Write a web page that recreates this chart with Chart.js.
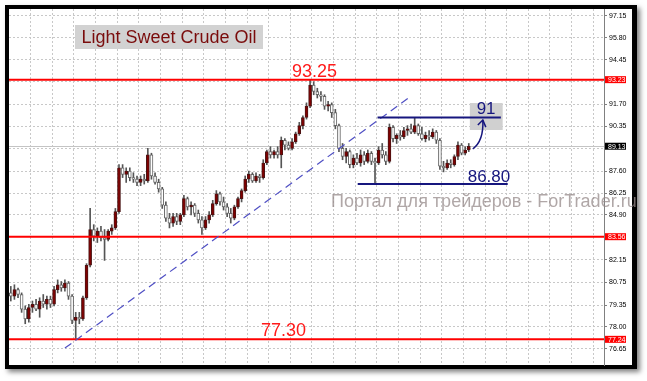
<!DOCTYPE html>
<html>
<head>
<meta charset="utf-8">
<script src="https://cdn.jsdelivr.net/npm/chart.js@4"></script>
<style>
  html, body { margin: 0; padding: 0; background: #fff; }
  canvas { display: block; }
</style>
</head>
<body>
<canvas id="chart" width="647" height="381"></canvas>
<script>
// Light Sweet Crude Oil, candles
const opens = [80.1, 79.9, 80.3, 80.0, 79.1, 78.5, 79.2, 79.4, 79.1, 79.6,
  79.4, 79.7, 79.4, 80.3, 80.6, 80.4, 80.7, 79.9, 78.4, 78.6,
  78.5, 79.8, 81.8, 84.0, 83.6, 83.9, 83.5, 83.4, 83.9, 84.1,
  85.1, 87.8, 87.4, 87.6, 87.2, 87.1, 86.9, 87.1, 87.0, 88.6,
  87.3, 86.9, 86.5, 85.5, 84.7, 84.4, 84.8, 84.5, 84.9, 85.9,
  85.4, 85.5, 85.0, 84.6, 84.1, 84.6, 84.9, 85.6, 86.2, 85.7,
  85.4, 85.0, 84.7, 85.4, 85.9, 86.4, 87.1, 87.4, 87.0, 87.3,
  87.2, 88.1, 88.8, 88.6, 88.8, 88.6, 89.5, 89.2, 89.0, 89.4,
  89.9, 90.4, 90.9, 91.6, 92.9, 92.5, 92.3, 92.2, 91.6, 91.7,
  91.2, 90.4, 89.0, 88.5, 88.8, 88.0, 88.4, 88.1, 88.6, 88.2,
  88.7, 88.2, 88.1, 88.9, 88.6, 88.2, 90.3, 89.6, 89.8, 89.7,
  90.1, 90.2, 90.0, 90.4, 89.9, 89.6, 89.8, 89.7, 90.0, 89.5,
  87.9, 87.8, 88.1, 88.0, 88.5, 89.2, 88.7, 88.9];
const highs = [80.5, 80.6, 80.4, 80.1, 79.3, 79.4, 79.6, 79.7, 79.8, 80.0,
  79.9, 79.9, 80.5, 80.9, 80.8, 80.9, 80.8, 80.0, 78.9, 78.9,
  79.9, 81.9, 85.3, 84.3, 84.1, 84.2, 84.0, 84.0, 84.3, 85.3,
  88.0, 88.0, 87.8, 87.8, 87.5, 87.3, 87.3, 87.4, 89.0, 88.7,
  87.5, 87.1, 86.6, 85.7, 85.0, 85.0, 85.0, 85.0, 86.1, 86.0,
  85.7, 85.6, 85.2, 84.8, 84.8, 85.1, 85.8, 86.4, 86.3, 86.0,
  85.6, 85.3, 85.5, 86.0, 86.5, 87.3, 87.6, 87.5, 87.5, 87.4,
  88.3, 88.9, 89.1, 88.9, 89.1, 89.7, 89.6, 89.4, 89.6, 90.0,
  90.6, 91.0, 91.8, 93.25, 93.1, 92.7, 92.5, 92.3, 91.9, 91.8,
  91.4, 90.5, 89.3, 89.0, 88.9, 88.6, 88.7, 88.9, 88.8, 88.9,
  88.8, 88.4, 89.1, 89.3, 88.8, 90.5, 90.4, 89.9, 90.1, 90.3,
  90.4, 90.5, 90.9, 90.5, 90.3, 90.0, 90.1, 90.2, 90.1, 89.6,
  88.2, 88.3, 88.3, 88.6, 89.4, 89.3, 89.1, 89.3];
const lows = [79.6, 79.7, 79.8, 78.9, 78.2, 78.3, 78.9, 79.0, 78.6, 79.2,
  79.1, 79.2, 79.3, 80.1, 80.2, 80.2, 79.7, 78.2, 77.3, 78.2,
  78.4, 79.7, 81.7, 83.3, 83.2, 83.3, 82.1, 83.3, 83.7, 84.0,
  85.0, 87.2, 86.9, 87.0, 86.9, 86.7, 86.7, 86.8, 86.9, 87.1,
  86.8, 86.3, 85.3, 84.5, 84.1, 84.2, 84.3, 84.3, 84.8, 85.2,
  84.9, 84.8, 84.4, 83.7, 84.0, 84.4, 84.8, 85.5, 85.5, 85.2,
  84.8, 84.4, 84.6, 85.3, 85.7, 86.3, 86.9, 86.9, 86.9, 86.9,
  87.1, 88.0, 88.4, 88.4, 88.4, 87.8, 88.9, 88.9, 88.9, 89.3,
  89.8, 90.2, 90.8, 91.5, 92.3, 92.1, 91.9, 91.4, 91.3, 90.9,
  90.2, 88.8, 88.3, 88.1, 87.8, 87.8, 88.0, 87.9, 88.0, 88.1,
  88.0, 86.85, 88.0, 88.4, 88.0, 88.1, 89.4, 89.3, 89.5, 89.6,
  89.8, 89.9, 89.9, 89.8, 89.5, 89.4, 89.5, 89.6, 89.3, 87.7,
  87.55, 87.7, 87.8, 87.9, 88.3, 88.6, 88.6, 88.8];
const closes = [79.9, 80.3, 80.0, 79.1, 78.5, 79.2, 79.4, 79.1, 79.6, 79.4,
  79.7, 79.4, 80.3, 80.6, 80.4, 80.7, 79.9, 78.4, 78.6, 78.5,
  79.8, 81.8, 84.0, 83.6, 83.9, 83.5, 83.4, 83.9, 84.1, 85.1,
  87.8, 87.4, 87.6, 87.2, 87.1, 86.9, 87.1, 87.0, 88.6, 87.3,
  86.9, 86.5, 85.5, 84.7, 84.4, 84.8, 84.5, 84.9, 85.9, 85.4,
  85.5, 85.0, 84.6, 84.1, 84.6, 84.9, 85.6, 86.2, 85.7, 85.4,
  85.0, 84.7, 85.4, 85.9, 86.4, 87.1, 87.4, 87.0, 87.3, 87.2,
  88.1, 88.8, 88.6, 88.8, 88.6, 89.5, 89.2, 89.0, 89.4, 89.9,
  90.4, 90.9, 91.6, 92.9, 92.5, 92.3, 92.2, 91.6, 91.7, 91.2,
  90.4, 89.0, 88.5, 88.8, 88.0, 88.4, 88.1, 88.6, 88.2, 88.7,
  88.2, 88.1, 88.9, 88.6, 88.2, 90.3, 89.6, 89.8, 89.7, 90.1,
  90.2, 90.0, 90.4, 89.9, 89.6, 89.8, 89.7, 90.0, 89.5, 87.9,
  87.8, 88.1, 88.0, 88.5, 89.2, 88.7, 88.9, 89.13];

const slotCount = 165; // bars that fit in the window, the right part is empty
const priceTicks = [97.15, 95.80, 94.45, 93.10, 91.70, 90.35, 89.00, 87.60, 86.25,
  84.90, 83.55, 82.15, 80.75, 79.35, 78.00, 76.65];
const hiddenTicks = [93.10, 89.00, 83.55]; // covered by the price tags
const redLevels = [93.23, 83.56, 77.24];
const bidPrice = 89.13;

// drawn objects: [fromIndex, fromPrice, toIndex, toPrice]
const trendLine = [15.0, 76.70, 110.3, 92.10];
const resistLine = [101.7, 90.90, 135.9, 90.90];
const supportLine = [96.2, 86.80, 137.8, 86.80];
const arrowPath = [128.1, 88.96, 130.9, 90.74];
const labelBox91 = [127.3, 91.79, 136.4, 90.13];

const labels = Array.from({length: slotCount}, (_, i) => String(i));

const bodyColors = opens.map((o, i) => closes[i] >= o ? '#800000' : '#ffffff');
const bodyBorders = opens.map((o, i) => closes[i] >= o ? '#4a1414' : '#666666');

const overlay = {
  id: 'overlay',
  beforeDraw(chart) {
    const c = chart.ctx, a = chart.chartArea;
    c.save();
    c.fillStyle = '#fff';
    c.fillRect(0, 0, chart.width, chart.height);
    c.shadowColor = 'rgba(0,0,0,0.5)';
    c.shadowBlur = 5;
    c.shadowOffsetX = 3;
    c.shadowOffsetY = 3;
    c.fillStyle = '#000';
    c.fillRect(a.left - 4, a.top - 4, chart.width - a.left - 6, a.bottom - a.top + 8);
    c.shadowColor = 'transparent';
    c.fillStyle = '#fff';
    c.fillRect(a.left, a.top, chart.width - a.left - 15, a.bottom - a.top);
    c.restore();
  },
  beforeDatasetsDraw(chart) {
    const c = chart.ctx, a = chart.chartArea, ys = chart.scales.y;
    const y = Math.round(ys.getPixelForValue(bidPrice)) + 0.5;
    c.save();
    c.strokeStyle = '#c4c4c4';
    c.lineWidth = 1;
    c.beginPath();
    c.moveTo(a.left, y);
    c.lineTo(a.right, y);
    c.stroke();
    c.restore();
  },
  afterDatasetsDraw(chart) {
    const c = chart.ctx, a = chart.chartArea, xs = chart.scales.x, ys = chart.scales.y;
    const px = v => xs.getPixelForValue(v);
    const py = v => ys.getPixelForValue(v);
    c.save();

    // horizontal red levels
    c.strokeStyle = '#ff0000';
    c.lineWidth = 2;
    redLevels.forEach(v => {
      c.beginPath();
      c.moveTo(a.left, py(v));
      c.lineTo(a.right, py(v));
      c.stroke();
    });

    // dashed trend line
    c.strokeStyle = '#4f4fc4';
    c.lineWidth = 1.2;
    c.setLineDash([8, 5]);
    c.beginPath();
    c.moveTo(px(trendLine[0]), py(trendLine[1]));
    c.lineTo(px(trendLine[2]), py(trendLine[3]));
    c.stroke();
    c.setLineDash([]);

    // "91" box
    c.fillStyle = '#d0d0d0';
    c.fillRect(px(labelBox91[0]), py(labelBox91[1]), px(labelBox91[2]) - px(labelBox91[0]), py(labelBox91[3]) - py(labelBox91[1]));

    // blue channel lines
    c.strokeStyle = '#16167e';
    c.lineWidth = 2;
    [resistLine, supportLine].forEach(l => {
      c.beginPath();
      c.moveTo(px(l[0]), py(l[1]));
      c.lineTo(px(l[2]), py(l[3]));
      c.stroke();
    });

    // arrow
    const x0 = px(arrowPath[0]), y0 = py(arrowPath[1]);
    const x1 = px(arrowPath[2]), y1 = py(arrowPath[3]);
    c.lineWidth = 1.5;
    c.beginPath();
    c.moveTo(x0, y0);
    c.quadraticCurveTo(x1 + 1, y0 - 8, x1, y1);
    c.stroke();
    c.beginPath();
    c.moveTo(x1 - 5, y1 + 5);
    c.lineTo(x1, y1);
    c.lineTo(x1 + 3, y1 + 7);
    c.stroke();

    // texts
    c.textAlign = 'center';
    c.textBaseline = 'alphabetic';
    c.font = '18px "Liberation Sans", Arial, sans-serif';
    c.fillStyle = '#ff1a1a';
    c.fillText('93.25', px(84.2), py(93.23) - 3);
    c.fillText('77.30', px(75.6), py(77.24) - 3);
    c.fillStyle = '#16167e';
    c.font = '17px "Liberation Sans", Arial, sans-serif';
    c.fillText('91', px(131.8), py(90.90) - 3);
    c.fillText('86.80', px(132.6), py(86.80) - 2);

    // title box
    c.fillStyle = '#d2d2d2';
    c.fillRect(a.left + 66, a.top + 16, 188, 24);
    c.fillStyle = '#7a0c0c';
    c.font = '18px "Liberation Sans", Arial, sans-serif';
    c.textBaseline = 'middle';
    c.fillText('Light Sweet Crude Oil', a.left + 160, a.top + 29);

    // highlighted price labels on the axis
    c.font = '7px "Liberation Sans", Arial, sans-serif';
    c.textAlign = 'left';
    const tag = (v, bg) => {
      const y = py(v);
      c.fillStyle = bg;
      c.fillRect(a.right + 1, y - 3.5, 21, 7);
      c.fillStyle = '#fff';
      c.fillText(v.toFixed(2), a.right + 4, y + 0.5);
    };
    redLevels.forEach(v => tag(v, '#ff0000'));
    tag(bidPrice, '#000000');
    c.restore();
  },
  afterDraw(chart) {
    const c = chart.ctx;
    c.save();
    c.font = '18px "Liberation Sans", Arial, sans-serif';
    c.fillStyle = 'rgba(150,138,138,0.75)';
    c.textBaseline = 'middle';
    c.fillText('Портал для трейдеров - ForTrader.ru', 331, 202);
    c.restore();
  }
};

new Chart(document.getElementById('chart'), {
  type: 'bar',
  data: {
    labels: labels,
    datasets: [{
      label: 'body',
      data: opens.map((o, i) => [o, closes[i]]),
      backgroundColor: bodyColors,
      borderColor: bodyBorders,
      borderWidth: 1,
      borderSkipped: false,
      barThickness: 3,
      grouped: false,
      order: 0
    }, {
      label: 'wick',
      data: lows.map((l, i) => [l, highs[i]]),
      backgroundColor: '#555555',
      borderWidth: 0,
      barThickness: 1,
      grouped: false,
      order: 1
    }]
  },
  options: {
    responsive: false,
    animation: false,
    devicePixelRatio: 1,
    layout: { padding: { left: 9, top: 9, right: 0, bottom: 16 } },
    plugins: { legend: { display: false }, tooltip: { enabled: false } },
    scales: {
      x: {
        offset: true,
        ticks: { display: false, autoSkip: false },
        grid: {
          offset: true,
          drawTicks: false,
          color: ctx => (ctx.index > 0 && ctx.index % 6 === 0) ? '#c8c8c8' : 'transparent'
        },
        border: { display: false, dash: [2, 2] },
        afterFit: s => { s.height = 0; }
      },
      y: {
        position: 'right',
        min: 75.66,
        max: 97.58,
        afterBuildTicks: s => { s.ticks = priceTicks.map(v => ({ value: v })); },
        afterFit: s => { s.width = 43; },
        ticks: {
          padding: 2,
          color: '#000',
          font: { family: '"Liberation Sans", Arial, sans-serif', size: 7 },
          callback: v => hiddenTicks.includes(Number(v)) ? '' : Number(v).toFixed(2)
        },
        grid: { color: '#c8c8c8', tickLength: 3, tickColor: '#808080' },
        border: { display: true, color: '#808080', width: 1, dash: [2, 2] }
      }
    }
  },
  plugins: [overlay]
});
</script>
</body>
</html>
